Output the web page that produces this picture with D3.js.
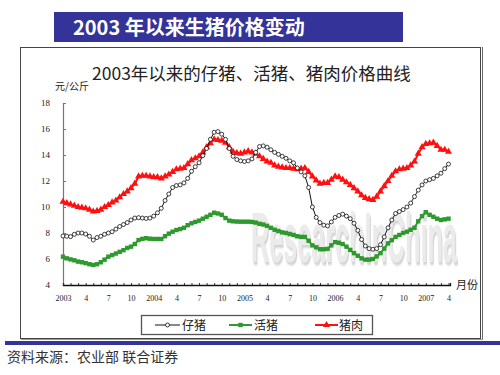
<!DOCTYPE html>
<html><head><meta charset="utf-8">
<script src="https://cdn.jsdelivr.net/npm/d3@7"></script>
<style>body{margin:0;background:#fff;} svg{display:block;}</style>
</head><body>
<svg id="c" width="500" height="375"></svg>
<script>
// ---- data (semi-monthly readings, Jan 2003 – Apr 2007) ----
const tickLabels = ["2003","4","7","10","2004","4","7","10","2005","4","7","10","2006","4","7","10","2007","4"];
const yTicks = [4,6,8,10,12,14,16,18];
const seriesNames = ["仔猪","活猪","猪肉"];
const piglet = [7.77,7.75,7.72,7.9,8.0,8.0,7.92,7.75,7.46,7.65,
 7.75,7.9,8.0,8.1,8.3,8.5,8.65,8.8,9.0,9.15,
 9.18,9.15,9.12,9.15,9.3,9.55,9.9,10.5,11.0,11.5,
 11.65,11.7,11.85,12.2,12.75,13.1,13.4,13.95,14.5,15.2,
 15.75,15.8,15.6,15.2,14.5,13.9,13.65,13.55,13.5,13.55,
 13.7,14.2,14.65,14.7,14.6,14.4,14.2,14.05,13.9,13.75,
 13.55,13.4,13.0,12.7,12.4,11.5,10.0,9.2,8.8,8.6,
 8.55,8.85,9.2,9.35,9.45,9.3,9.1,8.75,8.2,7.5,
 7.0,6.8,6.75,6.8,7.1,7.7,8.4,9.0,9.5,9.65,
 9.8,10.0,10.3,10.8,11.3,11.7,12.0,12.1,12.2,12.4,
 12.6,12.95,13.3];
const hog = [6.18,6.05,5.97,5.9,5.8,5.75,5.68,5.6,5.54,5.6,
 5.75,5.95,6.18,6.3,6.42,6.55,6.68,6.85,6.95,7.15,
 7.46,7.55,7.6,7.56,7.54,7.54,7.54,7.75,7.95,8.1,
 8.23,8.3,8.4,8.6,8.75,8.85,8.95,9.1,9.25,9.4,
 9.56,9.5,9.4,9.15,8.95,8.9,8.88,8.87,8.87,8.87,
 8.85,8.8,8.7,8.65,8.55,8.4,8.25,8.15,8.05,8.0,
 7.92,7.85,7.75,7.7,7.7,7.4,7.05,6.9,6.75,6.75,
 6.78,7.05,7.3,7.25,7.15,6.95,6.7,6.45,6.25,6.05,
 5.95,5.95,6.0,6.2,6.45,6.8,7.2,7.45,7.7,7.85,
 8.0,8.1,8.25,8.4,8.9,9.3,9.6,9.4,9.25,9.1,
 9.0,9.05,9.1];
const pork = [10.4,10.3,10.2,10.1,10.0,9.95,9.9,9.8,9.65,9.7,
 9.8,10.0,10.15,10.35,10.5,10.75,11.0,11.2,11.45,11.8,
 12.35,12.4,12.4,12.35,12.3,12.3,12.2,12.35,12.5,12.7,
 12.9,12.95,13.0,13.3,13.6,13.75,13.9,14.2,14.6,14.9,
 15.2,15.15,15.1,14.95,14.6,14.25,14.15,14.1,14.2,14.3,
 14.2,14.1,13.9,13.7,13.5,13.4,13.2,13.1,13.05,13.0,
 13.0,12.95,12.9,12.95,13.0,12.7,12.35,12.05,11.8,11.85,
 11.85,12.1,12.35,12.3,12.1,11.9,11.7,11.45,11.2,10.9,
 10.7,10.6,10.55,10.8,11.2,11.6,12.0,12.4,12.75,12.9,
 12.95,13.0,13.2,13.5,14.1,14.6,14.85,14.9,14.95,14.7,
 14.4,14.4,14.25];

const svg = d3.select("#c");
const CJK = "'Noto Sans CJK SC', sans-serif";
const BLUE = "#333399";

// banner
svg.append("rect").attr("x",54).attr("y",12).attr("width",349).attr("height",30).attr("fill",BLUE);
svg.append("text").attr("x",73).attr("y",34.5).attr("fill","#fff").attr("font-family",CJK)
  .attr("font-weight","bold").attr("font-size",20).text("2003 年以来生猪价格变动");

// frame
svg.append("rect").attr("x",20.5).attr("y",47.5).attr("width",460).attr("height",291)
  .attr("fill","none").attr("stroke","#444").attr("stroke-width",1);
svg.append("line").attr("x1",482.5).attr("x2",482.5).attr("y1",47).attr("y2",339.5).attr("stroke","#666").attr("stroke-width",1);
svg.append("line").attr("x1",21).attr("x2",483).attr("y1",339.5).attr("y2",339.5).attr("stroke","#999").attr("stroke-width",1);

// bottom blue rule + source
svg.append("rect").attr("x",5).attr("y",341).attr("width",495).attr("height",4).attr("fill",BLUE);
svg.append("text").attr("x",7).attr("y",362).attr("fill","#333").attr("font-family",CJK)
  .attr("font-size",14).text("资料来源：农业部 联合证券");

// chart title
svg.append("text").attr("x",92).attr("y",80).attr("fill","#222").attr("font-family",CJK)
  .attr("font-size",17.5).text("2003年以来的仔猪、活猪、猪肉价格曲线");
svg.append("text").attr("x",55).attr("y",90).attr("fill","#222").attr("font-family",CJK)
  .attr("font-size",10).text("元/公斤");

// scales
const x = d3.scaleLinear().domain([0,51.2]).range([63,450]);
const y = d3.scaleLinear().domain([4,18]).range([285,103]);

// watermark (single text with drop-shadow filter)
const defs = svg.append("defs");
const f = defs.append("filter").attr("id","wmshadow").attr("x","-10%").attr("y","-10%").attr("width","130%").attr("height","130%");
f.append("feDropShadow").attr("dx",3).attr("dy",3).attr("stdDeviation",1)
  .attr("flood-color","#9a9a9a").attr("flood-opacity",0.5);
svg.append("g").attr("transform","translate(251,262) scale(0.36,1)")
  .append("text").attr("x",0).attr("y",0).attr("font-family","'Liberation Sans', sans-serif")
  .attr("font-weight","bold").attr("font-size",70).attr("fill","#e8e8e8").attr("opacity",0.85)
  .attr("filter","url(#wmshadow)").text("ResearchInChina");

// y axis
const yAxis = d3.axisLeft(y).tickValues(yTicks).tickSize(-3).tickPadding(13).tickFormat(d3.format("d"));
const gy = svg.append("g").attr("transform","translate(63,0)").call(yAxis);
gy.select(".domain").attr("stroke","#777").attr("stroke-width",1.2);
gy.selectAll(".tick line").attr("stroke","#777");
gy.selectAll("text").attr("font-family","'Liberation Serif', serif").attr("font-size",9).attr("fill","#222");

// x axis
const months = d3.range(0,52);
const xAxis = d3.axisBottom(x).tickValues(months).tickSize(-2).tickPadding(10)
  .tickFormat(d => d % 3 === 0 ? tickLabels[d/3] : "");
const gx = svg.append("g").attr("transform","translate(0,285)").call(xAxis);
gx.select(".domain").attr("stroke","#111").attr("stroke-width",1.3);
gx.selectAll(".tick line").attr("stroke","#333");
gx.selectAll("text").attr("font-family","'Liberation Serif', serif").attr("font-size",8).attr("fill","#222");
svg.append("text").attr("x",456).attr("y",289).attr("font-family",CJK).attr("font-size",11).attr("fill","#222").text("月份");

// series
const line = d3.line().x((d,i)=>x(i*0.5)).y(d=>y(d));
const RED = "#ff1010", GREEN = "#2e9a2e";
function drawSeries(data, color, width, markerFn){
  svg.append("path").datum(data).attr("d",line).attr("fill","none").attr("stroke",color).attr("stroke-width",width);
  const g = svg.append("g");
  data.forEach((d,i)=>markerFn(g, x(i*0.5), y(d)));
}
const tri = d3.symbol().type(d3.symbolTriangle).size(22);
const redMarker = (g,cx,cy)=>g.append("path").attr("d",tri).attr("transform",`translate(${cx},${cy})`).attr("fill",RED);
const greenMarker = (g,cx,cy)=>g.append("rect").attr("x",cx-2.2).attr("y",cy-2.2).attr("width",4.4).attr("height",4.4).attr("fill",GREEN);
const blackMarker = (g,cx,cy)=>g.append("circle").attr("cx",cx).attr("cy",cy).attr("r",2).attr("fill","#fff").attr("stroke","#111").attr("stroke-width",0.8);

drawSeries(hog, GREEN, 2, greenMarker);
drawSeries(pork, RED, 2, redMarker);
drawSeries(piglet, "#111", 1, blackMarker);

// legend
svg.append("rect").attr("x",141.5).attr("y",315.5).attr("width",231).attr("height",19)
  .attr("fill","#fff").attr("stroke","#555").attr("stroke-width",1.3);
const legY = 325;
const leg = [
  {x1:155,x2:180,tx:182,color:"#111",w:1,m:blackMarker,name:seriesNames[0]},
  {x1:229,x2:252,tx:254,color:GREEN,w:2,m:greenMarker,name:seriesNames[1]},
  {x1:315,x2:338,tx:339,color:RED,w:2,m:redMarker,name:seriesNames[2]}
];
leg.forEach(l=>{
  svg.append("line").attr("x1",l.x1).attr("x2",l.x2).attr("y1",legY).attr("y2",legY).attr("stroke",l.color).attr("stroke-width",l.w);
  l.m(svg,(l.x1+l.x2)/2,legY);
  svg.append("text").attr("x",l.tx).attr("y",legY+4.5).attr("font-family",CJK).attr("font-size",12).attr("fill","#222").text(l.name);
});
</script>
</body></html>
